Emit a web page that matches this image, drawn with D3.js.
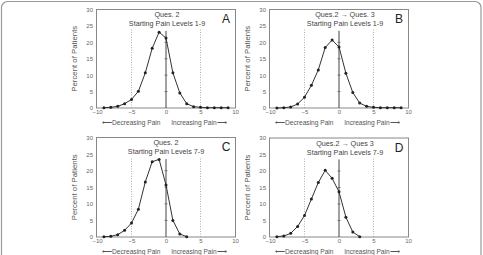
<!DOCTYPE html>
<html>
<head>
<meta charset="utf-8">
<script src="https://cdn.jsdelivr.net/npm/d3@7"></script>
<style>
  body { margin: 0; background: #fff; }
  svg { display: block; font-family: "Liberation Sans", Arial, sans-serif; }
</style>
</head>
<body>
<svg id="chart" width="483" height="255"></svg>
<script>
// pain change (points on the curves)
const changeAll = [-9, -8, -7, -6, -5, -4, -3, -2, -1, 0, 1, 2, 3, 4, 5, 6, 7, 8, 9];
const changeHigh = [-9, -8, -7, -6, -5, -4, -3, -2, -1, 0, 1, 2, 3];

// percent of patients
const pctA = [0.1, 0.2, 0.5, 1.3, 2.6, 5.1, 10.7, 18.2, 23.1, 21.3, 10.7, 4.6, 1.3, 0.4, 0.2, 0.1, 0.1, 0.1, 0.1];
const pctB = [0.0, 0.1, 0.3, 1.2, 3.3, 6.9, 11.6, 18.4, 20.7, 18.6, 10.6, 4.7, 1.5, 0.5, 0.2, 0.1, 0.1, 0.1, 0.1];
const pctC = [0.1, 0.2, 0.7, 2.0, 4.2, 8.4, 16.6, 22.7, 23.4, 15.7, 5.0, 0.9, 0.1];
const pctD = [0.1, 0.3, 1.1, 3.2, 6.5, 11.5, 16.5, 20.2, 17.8, 13.7, 6.0, 1.5, 0.1];

const xTicks = [-10, -5, 0, 5, 10];
const yTicks = [0, 5, 10, 15, 20, 25, 30];
const crossTicks = [5, 10, 15, 20];
const refLines = [-5, 5];

const panelLetters = ["A", "B", "C", "D"];
const titleLine1 = ["Ques. 2", "Ques.2 \u2192 Ques. 3", "Ques. 2", "Ques.2 \u2192 Ques 3"];
const titleLine2 = ["Starting Pain Levels 1-9", "Starting Pain Levels 1-9",
                    "Starting Pain Levels 7-9", "Starting Pain Levels 7-9"];

const panels = [
    {xs: changeAll, ys: pctA, left: 97, right: 235, top: 9.5, bottom: 108, tcx: 167},
    {xs: changeAll, ys: pctB, left: 270, right: 408, top: 9.5, bottom: 108, tcx: 345},
    {xs: changeHigh, ys: pctC, left: 97, right: 235, top: 137.5, bottom: 237, tcx: 166},
    {xs: changeHigh, ys: pctD, left: 270, right: 408, top: 138, bottom: 237, tcx: 345}
];

const svg = d3.select("#chart");

// outer frame
svg.append("rect")
    .attr("x", 1.5).attr("y", 1.5)
    .attr("width", 479.5).attr("height", 270)
    .attr("rx", 6)
    .attr("fill", "none")
    .attr("stroke", "#999")
    .attr("stroke-width", 1.2);

panels.forEach((p, i) => {

    const x = d3.scaleLinear().domain([-10, 10]).range([p.left, p.right]);
    const y = d3.scaleLinear().domain([0, 30]).range([p.bottom, p.top]);
    const g = svg.append("g");

    // box
    g.append("rect")
        .attr("x", x(-10) - 0.5).attr("y", y(30))
        .attr("width", x(10) - x(-10) + 1).attr("height", y(0) - y(30))
        .attr("fill", "none")
        .attr("stroke", "#888")
        .attr("stroke-width", 1);

    // axes: labels only
    const yAxis = g.append("g")
        .attr("transform", "translate(" + (x(-10) - 4) + ",0)")
        .call(d3.axisLeft(y).tickValues(yTicks).tickSize(0).tickPadding(0));
    const xAxis = g.append("g")
        .attr("transform", "translate(0," + (y(0) + 2) + ")")
        .call(d3.axisBottom(x).tickValues(xTicks).tickSize(0).tickPadding(0));
    [yAxis, xAxis].forEach(a => {
        a.select(".domain").remove();
        a.selectAll("text")
            .attr("font-family", "Liberation Sans, Arial, sans-serif")
            .attr("font-size", 6)
            .attr("fill", "#666");
    });

    // dotted reference lines
    g.selectAll(".ref")
        .data(refLines)
        .join("line")
        .attr("x1", d => x(d)).attr("x2", d => x(d))
        .attr("y1", y(0)).attr("y2", y(24))
        .attr("stroke", "#999")
        .attr("stroke-width", 0.8)
        .attr("stroke-dasharray", "1,1.5");

    // zero line with cross ticks
    g.append("line")
        .attr("x1", x(0)).attr("x2", x(0))
        .attr("y1", y(0)).attr("y2", y(23.5))
        .attr("stroke", "#444")
        .attr("stroke-width", 1);
    g.selectAll(".cross")
        .data(crossTicks)
        .join("line")
        .attr("x1", x(0) - 1.5).attr("x2", x(0) + 1.5)
        .attr("y1", d => y(d)).attr("y2", d => y(d))
        .attr("stroke", "#555")
        .attr("stroke-width", 0.7);

    // curve
    const pts = p.xs.map((v, k) => [v, p.ys[k]]);
    g.append("path")
        .datum(pts)
        .attr("fill", "none")
        .attr("stroke", "#333")
        .attr("stroke-width", 1)
        .attr("d", d3.line().x(d => x(d[0])).y(d => y(d[1])));
    g.selectAll(".pt")
        .data(pts)
        .join("circle")
        .attr("cx", d => x(d[0])).attr("cy", d => y(d[1]))
        .attr("r", 1.5)
        .attr("fill", "#222");

    // titles
    g.append("text")
        .attr("x", p.tcx).attr("y", p.top + 7.5)
        .attr("text-anchor", "middle")
        .attr("font-size", 7.2)
        .attr("fill", "#444")
        .text(titleLine1[i]);
    g.append("text")
        .attr("x", p.tcx).attr("y", p.top + 16.5)
        .attr("text-anchor", "middle")
        .attr("font-size", 7.2)
        .attr("fill", "#444")
        .text(titleLine2[i]);

    // panel letter
    g.append("text")
        .attr("x", p.right - 9).attr("y", p.top + 13.5)
        .attr("text-anchor", "middle")
        .attr("font-size", 12)
        .attr("fill", "#222")
        .text(panelLetters[i]);

    // y label
    g.append("text")
        .attr("transform", "translate(" + (x(-10) - 20) + "," + ((y(0) + y(30)) / 2) + ") rotate(-90)")
        .attr("text-anchor", "middle")
        .attr("font-size", 7.8)
        .attr("fill", "#555")
        .text("Percent of Patients");

    // x direction labels
    g.append("text")
        .attr("x", x(-0.8)).attr("y", y(0) + 16.5)
        .attr("text-anchor", "end")
        .attr("font-size", 6.6)
        .attr("fill", "#555")
        .text("\u27F5Decreasing Pain");
    g.append("text")
        .attr("x", x(0.75)).attr("y", y(0) + 16.5)
        .attr("text-anchor", "start")
        .attr("font-size", 6.6)
        .attr("fill", "#555")
        .text("Increasing Pain\u27F6");
});
</script>
</body>
</html>
